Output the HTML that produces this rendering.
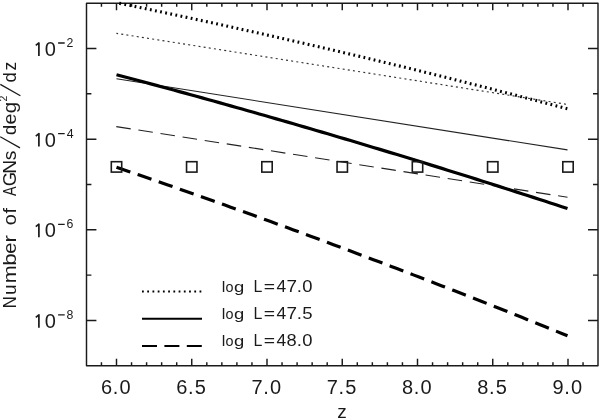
<!DOCTYPE html>
<html><head><meta charset="utf-8"><style>
html,body{margin:0;padding:0;background:#fff;width:600px;height:418px;overflow:hidden}
svg{display:block;will-change:transform}
text{font-family:"Liberation Sans", sans-serif}
</style></head><body>
<svg width="600" height="418" viewBox="0 0 600 418" font-family='"Liberation Sans", sans-serif' fill="#1a1a1a"><rect x="86.50" y="3.20" width="511.50" height="362.56" fill="none" stroke="#1a1a1a" stroke-width="1.45" stroke-linejoin="round"/>
<path d="M101.45 365.76V362.16M101.45 3.20V6.80M116.50 365.76V358.76M116.50 3.20V10.20M131.55 365.76V362.16M131.55 3.20V6.80M146.60 365.76V362.16M146.60 3.20V6.80M161.65 365.76V362.16M161.65 3.20V6.80M176.70 365.76V362.16M176.70 3.20V6.80M191.75 365.76V358.76M191.75 3.20V10.20M206.80 365.76V362.16M206.80 3.20V6.80M221.85 365.76V362.16M221.85 3.20V6.80M236.90 365.76V362.16M236.90 3.20V6.80M251.95 365.76V362.16M251.95 3.20V6.80M267.00 365.76V358.76M267.00 3.20V10.20M282.05 365.76V362.16M282.05 3.20V6.80M297.10 365.76V362.16M297.10 3.20V6.80M312.15 365.76V362.16M312.15 3.20V6.80M327.20 365.76V362.16M327.20 3.20V6.80M342.25 365.76V358.76M342.25 3.20V10.20M357.30 365.76V362.16M357.30 3.20V6.80M372.35 365.76V362.16M372.35 3.20V6.80M387.40 365.76V362.16M387.40 3.20V6.80M402.45 365.76V362.16M402.45 3.20V6.80M417.50 365.76V358.76M417.50 3.20V10.20M432.55 365.76V362.16M432.55 3.20V6.80M447.60 365.76V362.16M447.60 3.20V6.80M462.65 365.76V362.16M462.65 3.20V6.80M477.70 365.76V362.16M477.70 3.20V6.80M492.75 365.76V358.76M492.75 3.20V10.20M507.80 365.76V362.16M507.80 3.20V6.80M522.85 365.76V362.16M522.85 3.20V6.80M537.90 365.76V362.16M537.90 3.20V6.80M552.95 365.76V362.16M552.95 3.20V6.80M568.00 365.76V358.76M568.00 3.20V10.20M583.05 365.76V362.16M583.05 3.20V6.80M86.40 48.52H96.40M598.00 48.52H588.00M86.40 93.84H91.40M598.00 93.84H593.00M86.40 139.16H96.40M598.00 139.16H588.00M86.40 184.48H91.40M598.00 184.48H593.00M86.40 229.80H96.40M598.00 229.80H588.00M86.40 275.12H91.40M598.00 275.12H593.00M86.40 320.44H96.40M598.00 320.44H588.00" fill="none" stroke="#1a1a1a" stroke-width="1.45"/>
<path d="M116.40 33.35 L567.40 104.45" stroke="#333" stroke-width="1.15" stroke-dasharray="2.0 3.212" stroke-dashoffset="0.29" fill="none"/>
<path d="M116.50 78.80 L567.50 149.90" stroke="#222" stroke-width="1.1" fill="none"/>
<path d="M116.30 126.60 L567.50 197.30" stroke="#222" stroke-width="1.1" stroke-dasharray="14.6 7.76" fill="none"/>
<path d="M116.50 2.68 L122.21 3.85 L127.92 5.02 L133.63 6.19 L139.34 7.38 L145.04 8.56 L150.75 9.75 L156.46 10.95 L162.17 12.14 L167.88 13.35 L173.59 14.56 L179.30 15.77 L185.01 16.99 L190.72 18.21 L196.42 19.43 L202.13 20.66 L207.84 21.90 L213.55 23.14 L219.26 24.38 L224.97 25.63 L230.68 26.89 L236.39 28.14 L242.09 29.41 L247.80 30.67 L253.51 31.95 L259.22 33.22 L264.93 34.50 L270.64 35.79 L276.35 37.08 L282.06 38.37 L287.77 39.67 L293.47 40.97 L299.18 42.28 L304.89 43.59 L310.60 44.91 L316.31 46.23 L322.02 47.56 L327.73 48.89 L333.44 50.22 L339.15 51.56 L344.85 52.91 L350.56 54.26 L356.27 55.61 L361.98 56.97 L367.69 58.33 L373.40 59.70 L379.11 61.07 L384.82 62.45 L390.53 63.83 L396.23 65.21 L401.94 66.60 L407.65 68.00 L413.36 69.39 L419.07 70.80 L424.78 72.21 L430.49 73.62 L436.20 75.04 L441.91 76.46 L447.61 77.88 L453.32 79.31 L459.03 80.75 L464.74 82.19 L470.45 83.63 L476.16 85.08 L481.87 86.53 L487.58 87.99 L493.28 89.45 L498.99 90.92 L504.70 92.39 L510.41 93.87 L516.12 95.35 L521.83 96.83 L527.54 98.32 L533.25 99.82 L538.96 101.32 L544.66 102.82 L550.37 104.33 L556.08 105.84 L561.79 107.36 L567.50 108.88" stroke="#000" stroke-width="3.1" stroke-dasharray="1.8 3.411" stroke-dashoffset="-2.84" fill="none"/>
<path d="M116.50 74.68 L122.21 76.20 L127.92 77.72 L133.63 79.24 L139.34 80.77 L145.04 82.30 L150.75 83.84 L156.46 85.38 L162.17 86.93 L167.88 88.48 L173.59 90.04 L179.30 91.60 L185.01 93.16 L190.72 94.73 L196.42 96.31 L202.13 97.89 L207.84 99.47 L213.55 101.06 L219.26 102.66 L224.97 104.25 L230.68 105.86 L236.39 107.46 L242.09 109.07 L247.80 110.69 L253.51 112.31 L259.22 113.94 L264.93 115.57 L270.64 117.20 L276.35 118.84 L282.06 120.49 L287.77 122.13 L293.47 123.79 L299.18 125.45 L304.89 127.11 L310.60 128.77 L316.31 130.45 L322.02 132.12 L327.73 133.80 L333.44 135.49 L339.15 137.18 L344.85 138.87 L350.56 140.57 L356.27 142.28 L361.98 143.99 L367.69 145.70 L373.40 147.42 L379.11 149.14 L384.82 150.87 L390.53 152.60 L396.23 154.33 L401.94 156.07 L407.65 157.82 L413.36 159.57 L419.07 161.32 L424.78 163.08 L430.49 164.85 L436.20 166.62 L441.91 168.39 L447.61 170.17 L453.32 171.95 L459.03 173.74 L464.74 175.53 L470.45 177.32 L476.16 179.12 L481.87 180.93 L487.58 182.74 L493.28 184.55 L498.99 186.37 L504.70 188.20 L510.41 190.03 L516.12 191.86 L521.83 193.70 L527.54 195.54 L533.25 197.39 L538.96 199.24 L544.66 201.09 L550.37 202.95 L556.08 204.82 L561.79 206.69 L567.50 208.56" stroke="#000" stroke-width="3.2" fill="none"/>
<path d="M116.50 167.26 L122.21 169.21 L127.92 171.16 L133.63 173.12 L139.34 175.08 L145.04 177.05 L150.75 179.03 L156.46 181.00 L162.17 182.99 L167.88 184.97 L173.59 186.97 L179.30 188.96 L185.01 190.97 L190.72 192.97 L196.42 194.98 L202.13 197.00 L207.84 199.02 L213.55 201.04 L219.26 203.07 L224.97 205.11 L230.68 207.15 L236.39 209.19 L242.09 211.24 L247.80 213.29 L253.51 215.35 L259.22 217.41 L264.93 219.48 L270.64 221.55 L276.35 223.63 L282.06 225.71 L287.77 227.80 L293.47 229.89 L299.18 231.98 L304.89 234.08 L310.60 236.19 L316.31 238.30 L322.02 240.41 L327.73 242.53 L333.44 244.65 L339.15 246.78 L344.85 248.91 L350.56 251.05 L356.27 253.19 L361.98 255.34 L367.69 257.49 L373.40 259.65 L379.11 261.81 L384.82 263.98 L390.53 266.15 L396.23 268.32 L401.94 270.50 L407.65 272.68 L413.36 274.87 L419.07 277.07 L424.78 279.27 L430.49 281.47 L436.20 283.68 L441.91 285.89 L447.61 288.11 L453.32 290.33 L459.03 292.56 L464.74 294.79 L470.45 297.02 L476.16 299.26 L481.87 301.51 L487.58 303.76 L493.28 306.01 L498.99 308.27 L504.70 310.54 L510.41 312.81 L516.12 315.08 L521.83 317.36 L527.54 319.64 L533.25 321.93 L538.96 324.22 L544.66 326.52 L550.37 328.82 L556.08 331.12 L561.79 333.43 L567.50 335.75" stroke="#000" stroke-width="3.2" stroke-dasharray="14.6 7.74" fill="none"/>
<g fill="none" stroke="#1a1a1a" stroke-width="1.6"><rect x="111.30" y="161.70" width="10.4" height="10.4"/><rect x="186.55" y="161.70" width="10.4" height="10.4"/><rect x="261.80" y="161.70" width="10.4" height="10.4"/><rect x="337.05" y="161.70" width="10.4" height="10.4"/><rect x="412.30" y="161.70" width="10.4" height="10.4"/><rect x="487.55" y="161.70" width="10.4" height="10.4"/><rect x="562.80" y="161.70" width="10.4" height="10.4"/></g>
<path d="M142 291.6H202" stroke="#000" stroke-width="2" stroke-dasharray="1.8 3.43" fill="none"/>
<path d="M142 318.7H202" stroke="#000" stroke-width="2" fill="none"/>
<path d="M142 345.9H202" stroke="#000" stroke-width="2" stroke-dasharray="15 7.4" fill="none"/>
<text transform="translate(221.72 291.90) scale(1.100 1)" font-size="14.6">l</text>
<text transform="translate(225.59 291.90) scale(0.987 1)" font-size="14.6">o</text>
<text transform="translate(233.93 291.90) scale(1.263 1)" font-size="14.6">g</text>
<text transform="translate(253.60 291.90) scale(0.980 1)" font-size="16.2">L</text>
<text transform="translate(263.65 291.90) scale(1.194 1)" font-size="16.2">=</text>
<text transform="translate(276.60 291.90) scale(1.078 1)" font-size="16.2">4</text>
<text transform="translate(286.44 291.90) scale(1.167 1)" font-size="16.2">7</text>
<text transform="translate(296.69 291.90) scale(1.157 1)" font-size="16.2">.</text>
<text transform="translate(302.28 291.90) scale(1.136 1)" font-size="16.2">0</text>
<text transform="translate(221.72 319.20) scale(1.100 1)" font-size="14.6">l</text>
<text transform="translate(225.59 319.20) scale(0.987 1)" font-size="14.6">o</text>
<text transform="translate(233.93 319.20) scale(1.263 1)" font-size="14.6">g</text>
<text transform="translate(253.60 319.20) scale(0.980 1)" font-size="16.2">L</text>
<text transform="translate(263.65 319.20) scale(1.194 1)" font-size="16.2">=</text>
<text transform="translate(276.60 319.20) scale(1.078 1)" font-size="16.2">4</text>
<text transform="translate(286.44 319.20) scale(1.167 1)" font-size="16.2">7</text>
<text transform="translate(296.69 319.20) scale(1.157 1)" font-size="16.2">.</text>
<text transform="translate(302.26 319.20) scale(1.146 1)" font-size="16.2">5</text>
<text transform="translate(221.72 346.30) scale(1.100 1)" font-size="14.6">l</text>
<text transform="translate(225.59 346.30) scale(0.987 1)" font-size="14.6">o</text>
<text transform="translate(233.93 346.30) scale(1.263 1)" font-size="14.6">g</text>
<text transform="translate(253.60 346.30) scale(0.980 1)" font-size="16.2">L</text>
<text transform="translate(263.65 346.30) scale(1.194 1)" font-size="16.2">=</text>
<text transform="translate(276.60 346.30) scale(1.078 1)" font-size="16.2">4</text>
<text transform="translate(286.61 346.30) scale(1.129 1)" font-size="16.2">8</text>
<text transform="translate(296.69 346.30) scale(1.157 1)" font-size="16.2">.</text>
<text transform="translate(302.28 346.30) scale(1.136 1)" font-size="16.2">0</text>
<text x="100.88 112.78 119.52" y="393.90" font-size="20">6.0</text>
<text x="176.13 188.03 194.75" y="393.90" font-size="20">6.5</text>
<text x="251.38 263.28 270.02" y="393.90" font-size="20">7.0</text>
<text x="326.63 338.53 345.25" y="393.90" font-size="20">7.5</text>
<text x="402.04 413.78 420.52" y="393.90" font-size="20">8.0</text>
<text x="477.29 489.03 495.75" y="393.90" font-size="20">8.5</text>
<text x="552.46 564.28 571.02" y="393.90" font-size="20">9.0</text>
<text x="337.22" y="418.30" font-size="19">z</text>
<text x="44.82" y="56.02" font-size="20">0</text>
<text x="66.48" y="47.02" font-size="12.3">2</text>
<text x="44.82" y="146.66" font-size="20">0</text>
<text x="66.82" y="137.66" font-size="12.3">4</text>
<text x="44.82" y="237.30" font-size="20">0</text>
<text x="66.47" y="228.30" font-size="12.3">6</text>
<text x="44.82" y="327.94" font-size="20">0</text>
<text x="66.57" y="318.94" font-size="12.3">8</text>
<path d="M35.8 45.42L38.9 42.92V55.92M35.8 136.06L38.9 133.56V146.56M35.8 226.70L38.9 224.20V237.20M35.8 317.34L38.9 314.84V327.84" stroke="#1a1a1a" stroke-width="1.7" stroke-linejoin="round" fill="none"/>
<path d="M58.1 43.02H64.7M58.1 133.66H64.7M58.1 224.30H64.7M58.1 314.94H64.7" stroke="#1a1a1a" stroke-width="1.3" fill="none"/>
<g transform="translate(16.0 306.9) rotate(-90)"><text transform="translate(-1.36 0) scale(0.914 1)" font-size="18.2">N</text><text transform="translate(11.92 0) scale(1.041 1)" font-size="18.2">u</text><text transform="translate(23.58 0) scale(1.184 1)" font-size="18.2">m</text><text transform="translate(41.25 0) scale(1.224 1)" font-size="18.2">b</text><text transform="translate(53.06 0) scale(1.099 1)" font-size="18.2">e</text><text transform="translate(64.32 0) scale(1.231 1)" font-size="18.2">r</text><text transform="translate(81.56 0) scale(1.094 1)" font-size="18.2">o</text><text transform="translate(93.52 0) scale(1.099 1)" font-size="18.2">f</text><text transform="translate(110.87 0) scale(0.787 1)" font-size="18.2">A</text><text transform="translate(120.68 0) scale(1.010 1)" font-size="18.2">G</text><text transform="translate(133.23 0) scale(1.052 1)" font-size="18.2">N</text><text transform="translate(146.76 0) scale(1.059 1)" font-size="18.2">s</text><text transform="translate(171.93 0) scale(1.001 1)" font-size="18.2">d</text><text transform="translate(182.47 0) scale(1.087 1)" font-size="18.2">e</text><text transform="translate(193.63 0) scale(1.136 1)" font-size="18.2">g</text><text transform="translate(224.42 0) scale(1.026 1)" font-size="18.2">d</text><text transform="translate(236.29 0) scale(0.954 1)" font-size="18.2">z</text></g>
<text transform="translate(7.0 101.52) rotate(-90)" font-size="10.5">2</text>
<path d="M0.3 84.4L20.4 95.7M0.2 136.7L20.0 147.9" stroke="#1a1a1a" stroke-width="1.3" fill="none"/></svg>
</body></html>
